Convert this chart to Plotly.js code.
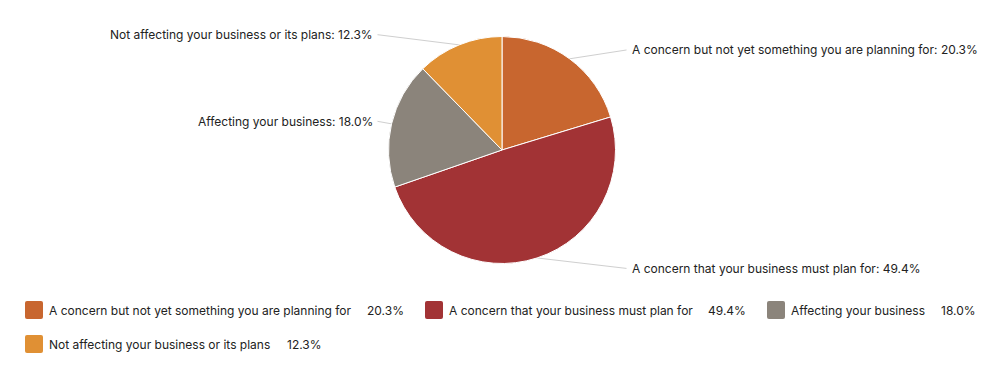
<!DOCTYPE html>
<html>
<head>
<meta charset="utf-8">
<script src="https://cdn.plot.ly/plotly-3.0.1.min.js"></script>
<style>
  html, body { margin: 0; padding: 0; background: #ffffff; }
  #chart { width: 1000px; height: 368px; }
</style>
</head>
<body>
<div id="chart"></div>
<script>
// ---- Data ----
const categories = [
  "A concern but not yet something you are planning for",
  "A concern that your business must plan for",
  "Affecting your business",
  "Not affecting your business or its plans"
];
const shares = [20.3, 49.4, 18.0, 12.3];
const sliceColors = ["#C8662F", "#A23335", "#8B847B", "#E09034"];

// ---- Layout constants (pixels) ----
const W = 1000, H = 368;
const cx = 502, cy = 150, R = 113.5;
const labelDist = 11;
const labelGapX = 14;      // text edge offset (annotation adds ~2px padding)
const legendItems = [
  { x: 25,  y: 310, pctX: 365 },
  { x: 425, y: 310, pctX: 706 },
  { x: 767, y: 310, pctX: 939 },
  { x: 25,  y: 344, pctX: 285 }
];
const FONT = "Inter, 'Liberation Sans', Arial, sans-serif";
const TEXT_COLOR = "#222222";

const px = x => x / W;
const py = y => 1 - y / H;

const trace = {
  type: "pie",
  labels: categories,
  values: shares,
  sort: false,
  direction: "clockwise",
  rotation: 0,
  textinfo: "none",
  hoverinfo: "label+percent",
  marker: { colors: sliceColors, line: { color: "#ffffff", width: 1 } },
  domain: { x: [px(cx - R), px(cx + R)], y: [py(cy + R), py(cy - R)] },
  showlegend: false
};

const annotations = [];
const shapes = [];
const total = shares.reduce((a, b) => a + b, 0);
let cum = 0;
shares.forEach((v, i) => {
  const mid = (cum + v / 2) / total * 2 * Math.PI;
  cum += v;
  const s = Math.sin(mid), c = Math.cos(mid);
  const ex = cx + R * s, ey = cy - R * c;
  const ly = cy - (R + labelDist) * c;
  const right = s >= 0;
  const lx = right ? cx + R + labelGapX : cx - R - labelGapX;
  const endX = right ? lx - 3 : lx + 3;
  shapes.push({
    type: "line", xref: "paper", yref: "paper",
    x0: px(ex), y0: py(ey), x1: px(endX), y1: py(ly),
    line: { color: "#cfcfcf", width: 1 }, layer: "below"
  });
  annotations.push({
    xref: "paper", yref: "paper", x: px(lx), y: py(ly),
    xanchor: right ? "left" : "right", yanchor: "middle",
    text: categories[i] + ": " + v.toFixed(1) + "%",
    showarrow: false, font: { family: FONT, size: 12, color: TEXT_COLOR }
  });
  // legend
  const L = legendItems[i];
  const x0 = L.x, x1 = L.x + 18, y0 = L.y - 9, y1 = L.y + 9, r = 2;
  const path = `M ${px(x0 + r)},${py(y0)} L ${px(x1 - r)},${py(y0)} Q ${px(x1)},${py(y0)} ${px(x1)},${py(y0 + r)} ` +
    `L ${px(x1)},${py(y1 - r)} Q ${px(x1)},${py(y1)} ${px(x1 - r)},${py(y1)} ` +
    `L ${px(x0 + r)},${py(y1)} Q ${px(x0)},${py(y1)} ${px(x0)},${py(y1 - r)} ` +
    `L ${px(x0)},${py(y0 + r)} Q ${px(x0)},${py(y0)} ${px(x0 + r)},${py(y0)} Z`;
  shapes.push({
    type: "path", xref: "paper", yref: "paper", path: path,
    fillcolor: sliceColors[i], line: { width: 0 }
  });
  annotations.push({
    xref: "paper", yref: "paper", x: px(L.x + 22), y: py(L.y),
    xanchor: "left", yanchor: "middle", text: categories[i],
    showarrow: false, font: { family: FONT, size: 12, color: TEXT_COLOR }
  });
  annotations.push({
    xref: "paper", yref: "paper", x: px(L.pctX), y: py(L.y),
    xanchor: "left", yanchor: "middle", text: v.toFixed(1) + "%",
    showarrow: false, font: { family: FONT, size: 12, color: TEXT_COLOR }
  });
});

const layout = {
  width: W, height: H,
  margin: { l: 0, r: 0, t: 0, b: 0 },
  paper_bgcolor: "#ffffff",
  plot_bgcolor: "#ffffff",
  font: { family: FONT, size: 12, color: TEXT_COLOR },
  showlegend: false,
  annotations: annotations,
  shapes: shapes
};

Plotly.newPlot("chart", [trace], layout, { displayModeBar: false });
</script>
</body>
</html>
